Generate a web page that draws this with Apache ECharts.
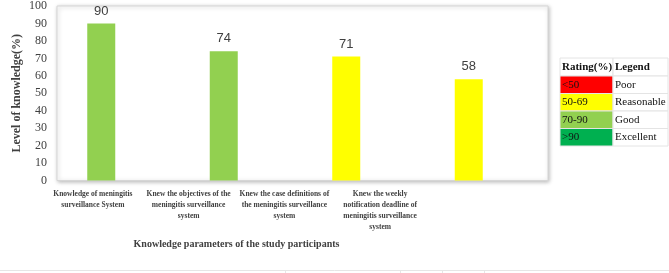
<!DOCTYPE html>
<html>
<head>
<meta charset="utf-8">
<script src="https://cdn.jsdelivr.net/npm/echarts@6/dist/echarts.min.js"></script>
<style>
  html, body { margin: 0; padding: 0; background: #fff; }
  #main { width: 669px; height: 273px; }
</style>
</head>
<body>
<div id="main"></div>
<script>
// data
var categories = [
    'Knowledge of meningitis\nsurveillance System',
    'Knew the objectives of the\nmeningitis surveillance\nsystem',
    'Knew the case definitions of\nthe meningitis surveillance\nsystem',
    'Knew the weekly\nnotification deadline of\nmeningitis surveillance\nsystem'
];
var knowledge = [90, 74, 71, 58];
var barColors = ['#92d050', '#92d050', '#ffff00', '#ffff00'];
var yTicks = [0, 10, 20, 30, 40, 50, 60, 70, 80, 90, 100];

// rating legend table
var ratingRanges = ['<50', '50-69', '70-90', '>90'];
var ratingNames = ['Poor', 'Reasonable', 'Good', 'Excellent'];
var ratingColors = ['#ff0000', '#ffff00', '#92d050', '#00b050'];

var serif = '"Liberation Serif", "Times New Roman", serif';
var myChart = echarts.init(document.getElementById('main'));

// table drawn as graphic elements
var tableGraphics = [];
var tx = 560, colW = [53, 55], rowH = [18, 17.5, 17.5, 17.5, 17.5], ty = 58;
var y = ty;
for (var r = 0; r < 5; r++) {
    var h = rowH[r];
    tableGraphics.push({
        type: 'rect', shape: { x: tx, y: y, width: colW[0], height: h },
        style: { fill: r === 0 ? '#fff' : ratingColors[r - 1], stroke: '#e4e4e4', lineWidth: 1 }
    });
    tableGraphics.push({
        type: 'rect', shape: { x: tx + colW[0], y: y, width: colW[1], height: h },
        style: { fill: '#fff', stroke: '#e4e4e4', lineWidth: 1 }
    });
    tableGraphics.push({
        type: 'text', x: tx + 2, y: y + h / 2,
        style: {
            text: r === 0 ? 'Rating(%)' : ratingRanges[r - 1],
            font: (r === 0 ? 'bold ' : '') + '11px ' + serif,
            fill: '#111', verticalAlign: 'middle'
        }
    });
    tableGraphics.push({
        type: 'text', x: tx + colW[0] + 2, y: y + h / 2,
        style: {
            text: r === 0 ? 'Legend' : ratingNames[r - 1],
            font: (r === 0 ? 'bold ' : '') + '11px ' + serif,
            fill: '#111', verticalAlign: 'middle'
        }
    });
    y += h;
}
// faint lines at the bottom of the picture
tableGraphics.push({ type: 'line', shape: { x1: 0, y1: 270.5, x2: 669, y2: 270.5 }, style: { stroke: '#e6e6e6', lineWidth: 1 } });
[285, 400, 442, 484].forEach(function (x) {
    tableGraphics.push({ type: 'line', shape: { x1: x + 0.5, y1: 270, x2: x + 0.5, y2: 273 }, style: { stroke: '#e6e6e6', lineWidth: 1 } });
});

var option = {
    animation: false,
    grid: [
        // frame + y axis
        { left: 57, top: 6, width: 491, height: 174.5, show: true, borderColor: '#d6d6d6', borderWidth: 1,
          shadowBlur: 4, shadowColor: 'rgba(0,0,0,0.25)', shadowOffsetX: 1, shadowOffsetY: 1, backgroundColor: '#fff' },
        // bars
        { left: 40, top: 6, width: 490, height: 174.5 },
        // category labels
        { left: 45, top: 6, width: 383, height: 174.5 }
    ],
    xAxis: [
        { gridIndex: 0, type: 'category', data: categories, show: false },
        { gridIndex: 1, type: 'category', data: categories, show: false },
        { gridIndex: 2, type: 'category', data: categories,
          axisLine: { show: false }, axisTick: { show: false },
          axisLabel: { interval: 0, margin: 8, fontFamily: serif, fontWeight: 'bold', fontSize: 7.5,
                       lineHeight: 11, color: '#404040', overflow: 'none' },
          name: 'Knowledge parameters of the study participants',
          nameLocation: 'middle', nameGap: 59, nameMoveOverlap: false,
          nameTextStyle: { fontFamily: serif, fontWeight: 'bold', fontSize: 10, color: '#404040' } }
    ],
    yAxis: [
        { gridIndex: 0, type: 'value', min: 0, max: 100, interval: 10,
          axisLine: { show: false }, axisTick: { show: false }, splitLine: { show: false },
          axisLabel: { margin: 10, fontFamily: serif, fontSize: 12, color: '#404040' },
          name: 'Level of knowledge(%)', nameLocation: 'middle', nameGap: 34, nameRotate: 90,
          nameMoveOverlap: false,
          nameTextStyle: { fontFamily: serif, fontWeight: 'bold', fontSize: 12, color: '#404040' } },
        { gridIndex: 1, type: 'value', min: 0, max: 100, show: false, splitLine: { show: false } },
        { gridIndex: 2, type: 'value', min: 0, max: 100, show: false, splitLine: { show: false } }
    ],
    series: [{
        type: 'bar',
        xAxisIndex: 1,
        yAxisIndex: 1,
        barWidth: 28,
        data: knowledge.map(function (v, i) {
            return { value: v, itemStyle: { color: barColors[i] } };
        }),
        label: {
            show: true, position: 'top', distance: 6,
            fontFamily: '"Liberation Sans", Arial, sans-serif', fontSize: 13, color: '#404040'
        }
    }],
    graphic: tableGraphics
};

myChart.setOption(option);
</script>
</body>
</html>
